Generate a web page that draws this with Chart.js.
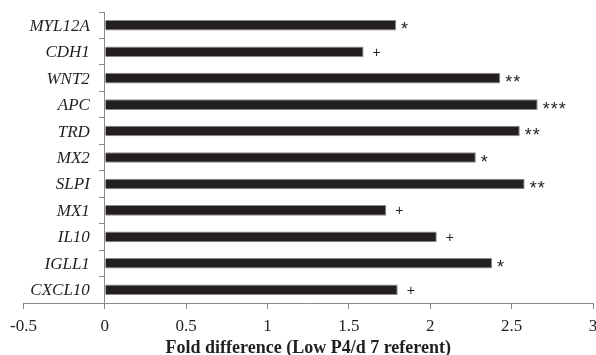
<!DOCTYPE html>
<html>
<head>
<meta charset="utf-8">
<script src="https://cdn.jsdelivr.net/npm/chart.js@4/dist/chart.umd.min.js"></script>
<style>
  html, body { margin: 0; padding: 0; background: #fff; }
  #wrap { width: 596px; height: 355px; }
</style>
</head>
<body>
<div id="wrap"><canvas id="c"></canvas></div>
<script>
// Genes, fold differences and significance marks
const genes = ['MYL12A', 'CDH1', 'WNT2', 'APC', 'TRD', 'MX2', 'SLPI', 'MX1', 'IL10', 'IGLL1', 'CXCL10'];
const foldDifference = [1.79, 1.59, 2.43, 2.66, 2.55, 2.28, 2.58, 1.73, 2.04, 2.38, 1.80];
const significance = ['*', '+', '**', '***', '**', '*', '**', '+', '+', '*', '+'];
const xTicks = [-0.5, 0, 0.5, 1, 1.5, 2, 2.5, 3];

const SERIF = '"Liberation Serif", "Times New Roman", serif';
const SANS = '"Liberation Sans", Arial, sans-serif';
const INK = '#231f20';

// Gene names sit to the left of the zero line, which carries the category axis
const geneLabelPlugin = {
  id: 'geneLabels',
  afterDraw(chart) {
    const ctx = chart.ctx;
    const yScale = chart.scales.y;
    const x0 = chart.scales.x.getPixelForValue(0);
    ctx.save();
    ctx.fillStyle = INK;
    ctx.font = 'italic 17px ' + SERIF;
    ctx.textAlign = 'right';
    ctx.textBaseline = 'middle';
    genes.forEach((g, i) => {
      ctx.fillText(g, x0 - 15, yScale.getPixelForTick(i) + 1);
    });
    ctx.restore();
  }
};

// Significance mark just past the end of each bar
const markPlugin = {
  id: 'marks',
  afterDatasetsDraw(chart) {
    const ctx = chart.ctx;
    const meta = chart.getDatasetMeta(0);
    ctx.save();
    ctx.fillStyle = INK;
    ctx.textAlign = 'left';
    ctx.textBaseline = 'alphabetic';
    meta.data.forEach((bar, i) => {
      const s = significance[i];
      if (s[0] === '*') {
        ctx.font = '18px ' + SANS;
        ctx.letterSpacing = '1px';
        ctx.fillText(s, bar.x + 5, bar.y + 10);
      } else {
        ctx.font = '14px ' + SANS;
        ctx.letterSpacing = '0px';
        ctx.fillText(s, bar.x + 9, bar.y + 5);
      }
    });
    ctx.restore();
  }
};

new Chart(document.getElementById('c'), {
  type: 'bar',
  data: {
    labels: genes,
    datasets: [{
      data: foldDifference,
      backgroundColor: INK,
      borderColor: '#8a8a8a',
      borderWidth: 1,
      barPercentage: 0.4,
      categoryPercentage: 1
    }]
  },
  options: {
    indexAxis: 'y',
    responsive: true,
    maintainAspectRatio: false,
    animation: false,
    layout: { padding: { left: 23.5, right: 3, top: 12, bottom: -2 } },
    plugins: { legend: { display: false }, tooltip: { enabled: false } },
    scales: {
      x: {
        min: -0.5,
        max: 3,
        afterBuildTicks(scale) { scale.ticks = xTicks.map(v => ({ value: v })); },
        // let the end labels overhang the plot edges instead of shrinking it
        afterFit(scale) { scale.paddingLeft = 0; scale.paddingRight = 0; },
        grid: { drawOnChartArea: false, drawTicks: true, tickLength: 6, color: '#8a8a8a' },
        border: { color: '#8a8a8a', width: 1 },
        ticks: {
          color: INK,
          padding: 9,
          font: { family: SERIF, size: 17, lineHeight: 1 },
          callback: v => String(v)
        },
        title: {
          display: true,
          text: 'Fold difference (Low P4/d 7 referent)',
          color: INK,
          padding: { top: -5, bottom: 0 },
          font: { family: SERIF, size: 18, weight: 'bold', lineHeight: 1 }
        }
      },
      y: {
        position: { x: 0 },
        grid: { drawOnChartArea: false, drawTicks: true, tickLength: 5, offset: true, color: '#8a8a8a' },
        border: { color: '#8a8a8a', width: 1 },
        ticks: { display: false }
      }
    }
  },
  plugins: [markPlugin, geneLabelPlugin]
});
</script>
</body>
</html>
